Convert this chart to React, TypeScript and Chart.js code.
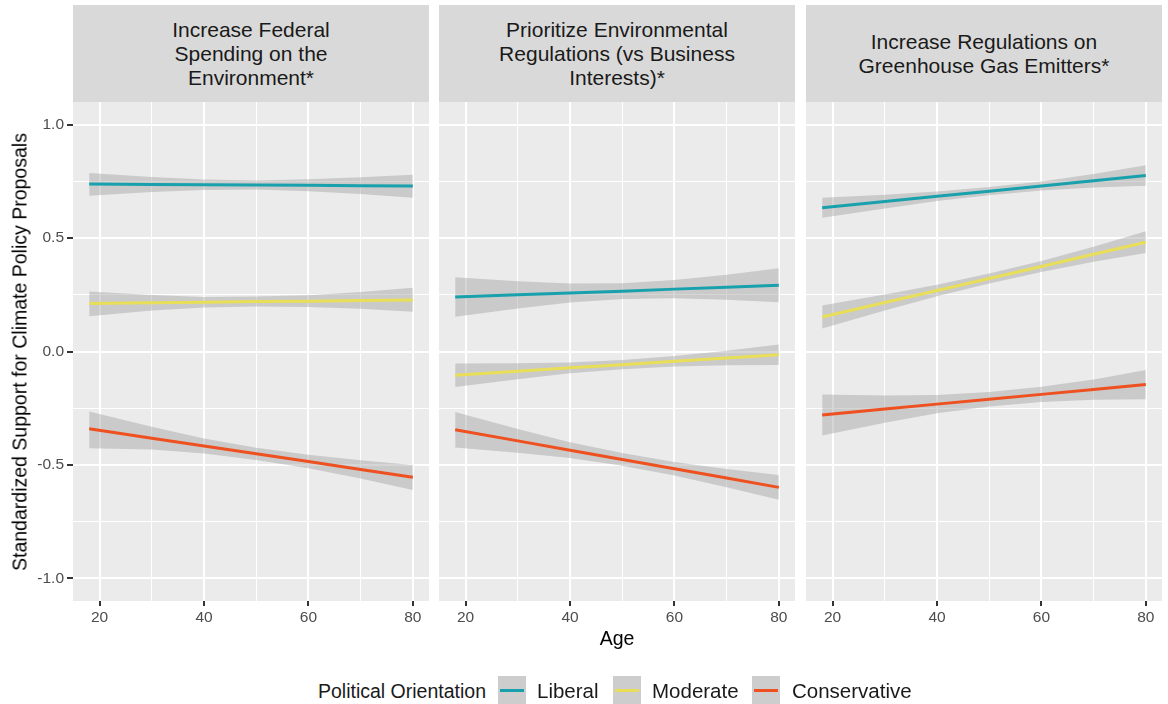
import React, { useEffect, useRef } from 'react';
import { Chart, registerables } from 'chart.js';

Chart.register(...registerables);

// ---------- data ----------
const ages = [18, 30, 40, 50, 60, 70, 80];
const xTicks = [20, 30, 40, 50, 60, 70, 80];
const xMajor = [20, 40, 60, 80];
const yTicks = [-1, -0.75, -0.5, -0.25, 0, 0.25, 0.5, 0.75, 1];
const yMajor = [-1, -0.5, 0, 0.5, 1];

const panelTitles = [
  ['Increase Federal', 'Spending on the', 'Environment*'],
  ['Prioritize Environmental', 'Regulations (vs Business', 'Interests)*'],
  ['Increase Regulations on', 'Greenhouse Gas Emitters*'],
];
const seriesNames = ['Liberal', 'Moderate', 'Conservative'];
const seriesColors = ['#18A1AC', '#E8DE58', '#EE501F'];

// Panel 1: Increase Federal Spending on the Environment
const spendLibFit = [0.738, 0.736, 0.735, 0.734, 0.733, 0.731, 0.730];
const spendLibHi = [0.787, 0.769, 0.758, 0.754, 0.759, 0.768, 0.779];
const spendLibLo = [0.687, 0.703, 0.712, 0.714, 0.707, 0.694, 0.678];
const spendModFit = [0.212, 0.215, 0.217, 0.220, 0.222, 0.225, 0.227];
const spendModHi = [0.265, 0.249, 0.240, 0.242, 0.248, 0.262, 0.281];
const spendModLo = [0.155, 0.181, 0.194, 0.198, 0.196, 0.188, 0.175];
const spendConFit = [-0.341, -0.382, -0.417, -0.451, -0.485, -0.520, -0.554];
const spendConHi = [-0.264, -0.332, -0.384, -0.424, -0.455, -0.480, -0.500];
const spendConLo = [-0.427, -0.432, -0.450, -0.478, -0.515, -0.560, -0.611];

// Panel 2: Prioritize Environmental Regulations
const prioLibFit = [0.240, 0.250, 0.258, 0.266, 0.275, 0.283, 0.292];
const prioLibHi = [0.327, 0.310, 0.300, 0.301, 0.315, 0.338, 0.367];
const prioLibLo = [0.153, 0.190, 0.216, 0.231, 0.235, 0.228, 0.217];
const prioModFit = [-0.105, -0.087, -0.072, -0.058, -0.043, -0.029, -0.014];
const prioModHi = [-0.053, -0.052, -0.048, -0.038, -0.020, 0.003, 0.031];
const prioModLo = [-0.157, -0.122, -0.096, -0.078, -0.066, -0.061, -0.059];
const prioConFit = [-0.345, -0.394, -0.435, -0.476, -0.517, -0.558, -0.599];
const prioConHi = [-0.267, -0.342, -0.400, -0.448, -0.487, -0.518, -0.544];
const prioConLo = [-0.423, -0.446, -0.470, -0.504, -0.547, -0.598, -0.654];

// Panel 3: Increase Regulations on Greenhouse Gas Emitters
const ghgLibFit = [0.634, 0.661, 0.684, 0.707, 0.730, 0.753, 0.776];
const ghgLibHi = [0.678, 0.691, 0.705, 0.725, 0.750, 0.783, 0.821];
const ghgLibLo = [0.590, 0.631, 0.663, 0.689, 0.710, 0.723, 0.731];
const ghgModFit = [0.152, 0.216, 0.269, 0.322, 0.375, 0.429, 0.482];
const ghgModHi = [0.203, 0.251, 0.294, 0.344, 0.399, 0.462, 0.530];
const ghgModLo = [0.101, 0.181, 0.244, 0.300, 0.351, 0.396, 0.434];
const ghgConFit = [-0.280, -0.254, -0.232, -0.211, -0.189, -0.168, -0.146];
const ghgConHi = [-0.190, -0.194, -0.192, -0.179, -0.155, -0.123, -0.082];
const ghgConLo = [-0.370, -0.314, -0.272, -0.243, -0.223, -0.213, -0.210];

const panelFits = [
  [spendLibFit, spendModFit, spendConFit],
  [prioLibFit, prioModFit, prioConFit],
  [ghgLibFit, ghgModFit, ghgConFit],
];
const panelHis = [
  [spendLibHi, spendModHi, spendConHi],
  [prioLibHi, prioModHi, prioConHi],
  [ghgLibHi, ghgModHi, ghgConHi],
];
const panelLos = [
  [spendLibLo, spendModLo, spendConLo],
  [prioLibLo, prioModLo, prioConLo],
  [ghgLibLo, ghgModLo, ghgConLo],
];

// ---------- layout ----------
const FONT = '"Liberation Sans", Arial, Helvetica, sans-serif';
const PLOT_TOP = 102;
const PLOT_H = 499;
const AXIS_H = 30;
const PANEL_W = 356;
const panelLefts = [73, 439, 806];
const Y_AXIS_W = 73;
const BAND = 'rgba(153,153,153,0.4)';

const bgPlugin = {
  id: 'panelBg',
  beforeDraw(chart: any) {
    const { ctx, chartArea } = chart;
    ctx.save();
    ctx.fillStyle = '#EBEBEB';
    ctx.fillRect(chartArea.left, chartArea.top, chartArea.right - chartArea.left, chartArea.bottom - chartArea.top);
    ctx.restore();
  },
};

function pts(vals: number[]) {
  return ages.map((a, i) => ({ x: a, y: vals[i] }));
}

function buildConfig(p: number, showY: boolean): any {
  const datasets: any[] = [];
  for (let s = 0; s < 3; s++) {
    datasets.push({
      label: seriesNames[s] + ' upper',
      data: pts(panelHis[p][s]),
      borderWidth: 0,
      pointRadius: 0,
      backgroundColor: BAND,
      fill: '+1',
      order: 2,
    });
    datasets.push({
      label: seriesNames[s] + ' lower',
      data: pts(panelLos[p][s]),
      borderWidth: 0,
      pointRadius: 0,
      fill: false,
      order: 2,
    });
  }
  for (let s = 0; s < 3; s++) {
    datasets.push({
      label: seriesNames[s],
      data: pts(panelFits[p][s]),
      borderColor: seriesColors[s],
      borderWidth: 3,
      pointRadius: 0,
      fill: false,
      tension: 0,
      order: 0,
    });
  }
  const tickFont = { family: FONT, size: 15.5 };
  return {
    type: 'line',
    data: { datasets },
    plugins: [bgPlugin],
    options: {
      animation: false,
      responsive: false,
      maintainAspectRatio: false,
      layout: { padding: 0 },
      plugins: { legend: { display: false }, tooltip: { enabled: false }, title: { display: false } },
      scales: {
        x: {
          type: 'linear',
          min: 14.9,
          max: 83.1,
          afterBuildTicks: (sc: any) => {
            sc.ticks = xTicks.map((v) => ({ value: v }));
          },
          afterFit: (sc: any) => {
            sc.height = AXIS_H;
            sc.paddingLeft = 0;
            sc.paddingRight = 0;
          },
          border: { display: false },
          grid: {
            color: '#FFFFFF',
            lineWidth: (c: any) => (c.tick && xMajor.includes(c.tick.value) ? 2 : 1),
            tickColor: (c: any) => (c.tick && xMajor.includes(c.tick.value) ? '#333333' : 'rgba(0,0,0,0)'),
            tickLength: 5,
            tickWidth: 2,
          },
          ticks: {
            autoSkip: false,
            maxRotation: 0,
            padding: 2,
            color: '#4D4D4D',
            font: tickFont,
            callback: (v: any) => (xMajor.includes(v) ? String(v) : ''),
          },
        },
        y: {
          type: 'linear',
          min: -1.1,
          max: 1.1,
          afterBuildTicks: (sc: any) => {
            sc.ticks = yTicks.map((v) => ({ value: v }));
          },
          afterFit: (sc: any) => {
            sc.width = showY ? Y_AXIS_W : 0;
            sc.paddingTop = 0;
            sc.paddingBottom = 0;
          },
          border: { display: false },
          grid: {
            color: '#FFFFFF',
            lineWidth: (c: any) => (c.tick && yMajor.includes(c.tick.value) ? 2 : 1),
            tickColor: (c: any) => (c.tick && yMajor.includes(c.tick.value) ? '#333333' : 'rgba(0,0,0,0)'),
            drawTicks: showY,
            tickLength: 6,
            tickWidth: 2,
          },
          ticks: {
            display: showY,
            autoSkip: false,
            padding: 3,
            color: '#4D4D4D',
            font: tickFont,
            callback: (v: any) => (yMajor.includes(v) ? Number(v).toFixed(1) : ''),
          },
        },
      },
    },
  };
}

export default function App() {
  const r0 = useRef<HTMLCanvasElement>(null);
  const r1 = useRef<HTMLCanvasElement>(null);
  const r2 = useRef<HTMLCanvasElement>(null);

  useEffect(() => {
    const refs = [r0, r1, r2];
    const charts = refs.map((r, i) => new Chart(r.current as HTMLCanvasElement, buildConfig(i, i === 0)));
    return () => charts.forEach((c) => c.destroy());
  }, []);

  const refs = [r0, r1, r2];
  const keyLefts = [498, 613, 752];
  const labelLefts = [537, 652, 792];

  return (
    <div
      style={{
        position: 'absolute',
        left: 0,
        top: 0,
        width: 1168,
        height: 704,
        background: '#FFFFFF',
        overflow: 'hidden',
        fontFamily: FONT,
      }}
    >
      {panelTitles.map((lines, i) => (
        <div
          key={'strip' + i}
          style={{
            position: 'absolute',
            left: panelLefts[i],
            top: 5,
            width: PANEL_W,
            height: PLOT_TOP - 5,
            background: '#D9D9D9',
            display: 'flex',
            flexDirection: 'column',
            alignItems: 'center',
            justifyContent: 'center',
            color: '#1A1A1A',
            fontSize: 21,
            lineHeight: '24px',
            textAlign: 'center',
          }}
        >
          {lines.map((l, j) => (
            <div key={j}>{l}</div>
          ))}
        </div>
      ))}

      {refs.map((r, i) => {
        const left = i === 0 ? 0 : panelLefts[i];
        const w = i === 0 ? panelLefts[0] + PANEL_W : PANEL_W;
        return (
          <canvas
            key={'c' + i}
            ref={r}
            width={w}
            height={PLOT_H + AXIS_H}
            style={{ position: 'absolute', left, top: PLOT_TOP, width: w, height: PLOT_H + AXIS_H }}
          />
        );
      })}

      <div
        style={{
          position: 'absolute',
          left: 20,
          top: PLOT_TOP + PLOT_H / 2,
          transform: 'translate(-50%, -50%) rotate(-90deg)',
          whiteSpace: 'nowrap',
          fontSize: 19.5,
          color: '#000000',
        }}
      >
        Standardized Support for Climate Policy Proposals
      </div>

      <div
        style={{
          position: 'absolute',
          left: panelLefts[1] + PANEL_W / 2,
          top: 638,
          transform: 'translate(-50%, -50%)',
          whiteSpace: 'nowrap',
          fontSize: 19.5,
          color: '#000000',
        }}
      >
        Age
      </div>

      <div
        style={{
          position: 'absolute',
          left: 318,
          top: 691,
          transform: 'translateY(-50%)',
          whiteSpace: 'nowrap',
          fontSize: 19.5,
          color: '#1A1A1A',
        }}
      >
        Political Orientation
      </div>
      {seriesNames.map((n, i) => (
        <React.Fragment key={'lg' + i}>
          <div
            style={{
              position: 'absolute',
              left: keyLefts[i],
              top: 676,
              width: 28,
              height: 28,
              background: '#CDCDCD',
            }}
          >
            <div
              style={{
                position: 'absolute',
                left: 2,
                right: 2,
                top: 12.5,
                height: 3,
                background: seriesColors[i],
              }}
            />
          </div>
          <div
            style={{
              position: 'absolute',
              left: labelLefts[i],
              top: 691,
              transform: 'translateY(-50%)',
              whiteSpace: 'nowrap',
              fontSize: 20.5,
              color: '#1A1A1A',
            }}
          >
            {n}
          </div>
        </React.Fragment>
      ))}
    </div>
  );
}
